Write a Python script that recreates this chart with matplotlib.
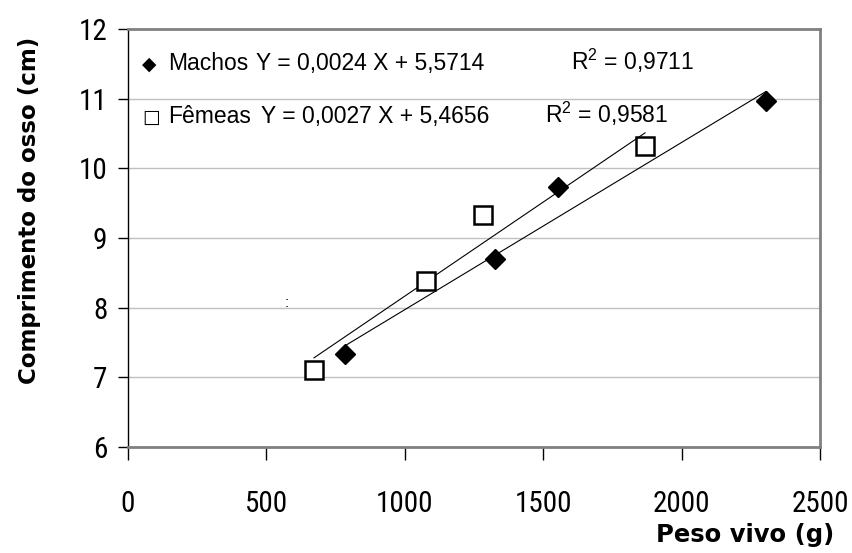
import numpy as np
import matplotlib
matplotlib.use('Agg')
import matplotlib.pyplot as plt
from matplotlib import font_manager

# data
machos_x = [785, 1325, 1555, 2305]
machos_y = [7.33, 8.70, 9.73, 10.97]
femeas_x = [672, 1075, 1283, 1868]
femeas_y = [7.10, 8.38, 9.33, 10.32]

# trendline coefficients (slope, intercept) as printed on the chart
machos_fit = [0.0024, 5.5714]
femeas_fit = [0.0027, 5.4656]
machos_r2 = '0,9711'
femeas_r2 = '0,9581'

x_ticks = [0, 500, 1000, 1500, 2000, 2500]
y_ticks = [6, 7, 8, 9, 10, 11, 12]

plt.rcParams['mathtext.fontset'] = 'custom'
plt.rcParams['mathtext.rm'] = 'Liberation Sans'
plt.rcParams['mathtext.it'] = 'Liberation Sans'

# pick a condensed font for the tick labels if one is around
names = set(f.name for f in font_manager.fontManager.ttflist)
tickfam, tickfs = 'Liberation Sans', 18
for cand in ['Roboto Condensed', 'DejaVu Sans Condensed', 'Liberation Sans Narrow',
             'Open Sans Condensed']:
    if cand in names:
        tickfam, tickfs = cand, 21
        break

fig = plt.figure(figsize=(8.53, 5.53), dpi=100)
ax = fig.add_axes([128/853, 1-447/553, 692/853, 418/553])

# trend lines
for xs, fit in [(machos_x, machos_fit), (femeas_x, femeas_fit)]:
    xl = np.array([min(xs), max(xs)])
    ax.plot(xl, fit[0]*xl + fit[1], color='black', lw=0.8, zorder=2)

ax.plot(machos_x, machos_y, 'D', color='black', ms=10, zorder=3)
ax.plot(femeas_x, femeas_y, 's', mfc='white', mec='black', mew=1.8, ms=13, zorder=3)

ax.set_xlim(0, 2500)
ax.set_ylim(6, 12)
ax.set_xticks(x_ticks)
ax.set_yticks(y_ticks)
ax.yaxis.grid(True, color='#c0c0c0', lw=1)
ax.set_axisbelow(True)

for lab in ax.get_xticklabels() + ax.get_yticklabels():
    lab.set_family(tickfam)
    lab.set_fontsize(tickfs)
ax.tick_params(axis='x', length=9, width=1, pad=22, color='black')
ax.tick_params(axis='y', length=7, width=1, pad=8, color='black')

ax.spines['left'].set_color('black')
ax.spines['left'].set_linewidth(1)
for s in ['top', 'right', 'bottom']:
    ax.spines[s].set_color('#808080')
    ax.spines[s].set_linewidth(2)

# equation annotations
def px(x, y):
    return (x-128)/692, (447-y)/418

fam = ['Liberation Sans', 'DejaVu Sans']
fs = 16.5
rows = [(70, '\u25c6', 'Machos', machos_fit, machos_r2, 256, 571),
        (123, '\u25a1', 'F\u00eameas', femeas_fit, femeas_r2, 261, 545)]
for yb, sym, name, fit, r2, xeq, xr2 in rows:
    ax.text(*px(142, yb), sym, transform=ax.transAxes, family='DejaVu Sans',
            fontsize=13.5, va='baseline')
    ax.text(*px(168, yb), name, transform=ax.transAxes, family=fam,
            fontsize=fs, va='baseline')
    eq = 'Y = %s X + %s' % (('%.4f' % fit[0]).replace('.', ','),
                            ('%.4f' % fit[1]).replace('.', ','))
    ax.text(*px(xeq, yb), eq, transform=ax.transAxes, family=fam,
            fontsize=fs, va='baseline')
    ax.text(*px(xr2, yb), 'R$^2$ = ' + r2, transform=ax.transAxes, family=fam,
            fontsize=fs, va='baseline')

ax.text(*px(287, 303), ':', transform=ax.transAxes, family=fam, fontsize=11,
        ha='center', va='center')

fig.text(30/853, 1-210/553, 'Comprimento do osso (cm)', rotation=90,
         ha='center', va='center', fontsize=16.5, fontweight='bold',
         family='DejaVu Sans')
fig.text(745/853, 1-542/553, 'Peso vivo (g)', ha='center', va='baseline',
         fontsize=17.5, fontweight='bold', family='DejaVu Sans')

fig.savefig('out.png', dpi=100)
